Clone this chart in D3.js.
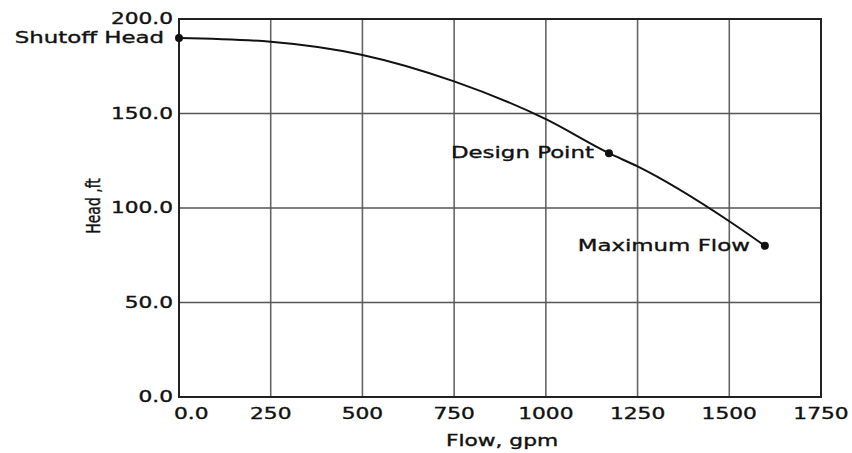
<!DOCTYPE html>
<html>
<head>
<meta charset="utf-8">
<script src="https://cdn.jsdelivr.net/npm/d3@7"></script>
<style>
  body { margin: 0; background: #fff; }
  text { font-family: "DejaVu Sans", Verdana, sans-serif; fill: #111; }
</style>
</head>
<body>
<div id="chart"></div>
<script>
// pump curve data
const flowValues = [0, 250, 500, 750, 1000, 1172, 1250, 1500, 1597];
const headValues = [190, 188, 181, 167, 147, 129, 122, 93, 80];
const xTicks = [0, 250, 500, 750, 1000, 1250, 1500, 1750];
const yTicks = [0, 50, 100, 150, 200];
const markerNames = ["Shutoff Head", "Design Point", "Maximum Flow"];
const markerFlows = [0, 1172, 1597];
const markerHeads = [190, 129, 80];

const width = 852, height = 453;
const margin = {left: 179, right: 852 - 821, top: 19, bottom: 453 - 397};
const SX = 1.45; // text in the picture is stretched sideways

const svg = d3.select("#chart").append("svg")
    .attr("width", width)
    .attr("height", height);

const x = d3.scaleLinear().domain([0, 1750]).range([margin.left, width - margin.right]);
const y = d3.scaleLinear().domain([0, 200]).range([height - margin.bottom, margin.top]);

// stretched text helper
function label(px, py, str, anchor, size, sx) {
    const g = svg.append("g").attr("transform", `translate(${px},${py}) scale(${sx || SX},1)`);
    g.append("text")
        .attr("text-anchor", anchor)
        .attr("dominant-baseline", "central")
        .attr("font-size", size + "px")
        .style("stroke", "#111")
        .style("stroke-width", 0.35)
        .text(str);
    return g;
}

// grid
svg.append("g").selectAll("line.v")
    .data(xTicks.filter(d => d > 0 && d < 1750))
    .join("line")
    .attr("x1", d => x(d)).attr("x2", d => x(d))
    .attr("y1", y(0)).attr("y2", y(200))
    .attr("stroke", "#666").attr("stroke-width", 1.6);

svg.append("g").selectAll("line.h")
    .data(yTicks.filter(d => d > 0 && d < 200))
    .join("line")
    .attr("x1", x(0)).attr("x2", x(1750))
    .attr("y1", d => y(d)).attr("y2", d => y(d))
    .attr("stroke", "#555").attr("stroke-width", 1.3);

// frame
svg.append("rect")
    .attr("x", x(0)).attr("y", y(200))
    .attr("width", x(1750) - x(0)).attr("height", y(0) - y(200))
    .attr("fill", "none").attr("stroke", "#222").attr("stroke-width", 2);

// tick labels
yTicks.forEach(d => label(x(0) - 6, y(d), d3.format(".1f")(d), "end", 15.5, 1.4));
xTicks.forEach(d => {
    if (d === 0) label(x(0) - 5, y(0) + 17, "0.0", "start", 15);
    else label(x(d), y(0) + 17, String(d), "middle", 15);
});

// axis titles
label((x(0) + x(1750)) / 2 + 2, 441, "Flow, gpm", "middle", 15);
svg.append("text")
    .attr("transform", `translate(93,${y(100) - 2}) rotate(-90) scale(1,1.4)`)
    .attr("text-anchor", "middle")
    .attr("dominant-baseline", "central")
    .attr("font-family", "'DejaVu Sans Condensed', 'Liberation Sans Narrow', sans-serif")
    .attr("font-size", "14px")
    .style("stroke", "#111")
    .style("stroke-width", 0.3)
    .text("Head ,ft");

// curve
const pts = flowValues.map((f, i) => [f, headValues[i]]);
const line = d3.line()
    .x(d => x(d[0]))
    .y(d => y(d[1]))
    .curve(d3.curveMonotoneX);

svg.append("path")
    .datum(pts)
    .attr("d", line)
    .attr("fill", "none")
    .attr("stroke", "#111")
    .attr("stroke-width", 2);

// marked points
svg.append("g").selectAll("circle")
    .data(markerFlows)
    .join("circle")
    .attr("cx", (d, i) => x(d))
    .attr("cy", (d, i) => y(markerHeads[i]))
    .attr("r", 4)
    .attr("fill", "#111");

markerNames.forEach((name, i) => {
    label(x(markerFlows[i]) - 15, y(markerHeads[i]), name, "end", 16, 1.43);
});
</script>
</body>
</html>
